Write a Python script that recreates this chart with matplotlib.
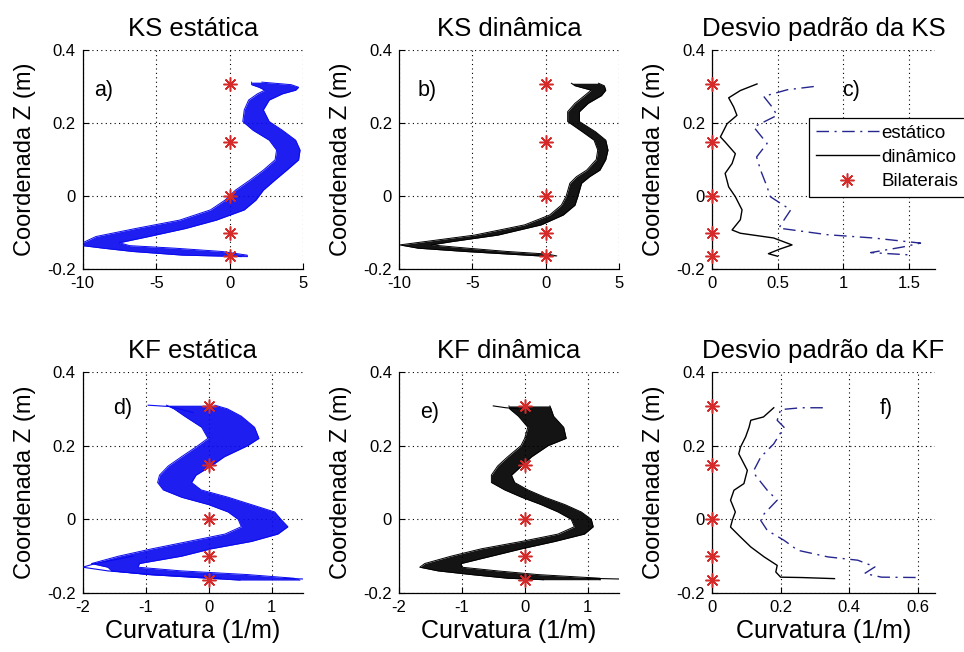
import matplotlib
matplotlib.use("Agg")
import matplotlib.pyplot as plt
from matplotlib.lines import Line2D

plt.rcParams['font.family'] = ['Liberation Sans', 'DejaVu Sans']

# ---------------- data ----------------
# bilateral supports (red stars)
Z_BIL = [0.307, 0.147, 0.0, -0.1, -0.165]
K_BIL = [0, 0, 0, 0, 0]

# a) KS estática - envelope of the ensemble
ZA = [0.312, 0.305, 0.298, 0.29, 0.28, 0.263, 0.236, 0.204, 0.18, 0.153, 0.126, 0.099, 0.071,
      0.044, 0.016, -0.011, -0.038, -0.066, -0.089, -0.111, -0.128, -0.136, -0.143, -0.152, -0.162, -0.166]
A_LO = [1.5, 1.5, 2.0, 2.4, 1.9, 1.3, 1.0, 0.9, 1.6, 2.7, 3.2, 3.1, 2.3,
        1.4, 0.4, -0.3, -1.3, -3.4, -6.4, -9.1, -10.0, -10.0, -8.6, -6.6, -3.2, 0.8]
A_HI = [2.2, 4.2, 4.7, 4.5, 3.6, 2.7, 2.3, 2.7, 3.6, 4.5, 4.8, 4.7, 3.9,
        3.1, 2.3, 1.8, 1.0, -0.9, -3.0, -5.5, -7.5, -6.8, -3.7, -0.5, 1.2, 1.2]

# b) KS dinâmica
ZB = [0.309, 0.302, 0.29, 0.275, 0.254, 0.231, 0.204, 0.176, 0.153, 0.126, 0.10, 0.071, 0.053,
      0.035, 0.0, -0.025, -0.052, -0.079, -0.107, -0.125, -0.134, -0.143, -0.152, -0.159, -0.164]
B_LO = [1.75, 2.0, 3.1, 2.65, 2.0, 1.5, 1.5, 2.5, 3.3, 3.55, 3.45, 2.8, 2.1,
        1.65, 1.4, 1.07, 0.27, -1.43, -4.84, -8.25, -9.95, -8.7, -5.5, -2.6, -0.5]
B_HI = [3.6, 4.0, 4.1, 3.8, 2.9, 2.3, 2.3, 3.4, 4.1, 4.25, 4.1, 3.7, 3.0,
        2.45, 2.2, 2.0, 1.2, -0.3, -3.25, -6.4, -7.8, -5.3, -2.6, 0.1, 0.75]

# c) Desvio padrão da KS
ZC_EST = [0.30, 0.291, 0.273, 0.244, 0.221, 0.189, 0.144, 0.107, 0.071, 0.025, -0.002, -0.038,
          -0.065, -0.088, -0.106, -0.115, -0.129, -0.14, -0.155, -0.161]
C_EST = [0.776, 0.573, 0.394, 0.458, 0.496, 0.318, 0.42, 0.34, 0.37, 0.42, 0.445, 0.6,
         0.55, 0.51, 0.88, 1.23, 1.59, 1.45, 1.21, 1.49]
ZC_DIN = [0.307, 0.289, 0.269, 0.244, 0.221, 0.198, 0.162, 0.148, 0.116, 0.089, 0.062, 0.025,
          -0.002, -0.038, -0.065, -0.093, -0.102, -0.115, -0.134, -0.145, -0.158, -0.165]
C_DIN = [0.343, 0.216, 0.127, 0.165, 0.19, 0.115, 0.064, 0.1, 0.178, 0.153, 0.1, 0.127,
         0.178, 0.229, 0.216, 0.153, 0.216, 0.47, 0.61, 0.52, 0.43, 0.5]

# d) KF estática
ZD = [0.31, 0.30, 0.28, 0.25, 0.22, 0.20, 0.17, 0.145, 0.12, 0.10, 0.08, 0.06, 0.04,
      0.02, 0.0, -0.02, -0.04, -0.06, -0.08, -0.10, -0.12, -0.13, -0.14, -0.15, -0.16, -0.165]
D_LO = [-0.67, -0.55, -0.38, -0.11, -0.01, -0.17, -0.43, -0.64, -0.78, -0.81, -0.72, -0.43, 0.0,
        0.31, 0.47, 0.52, 0.26, -0.32, -0.9, -1.43, -1.86, -1.6, -1.54, -0.96, 0.0, 0.5]
D_HI = [0.1, 0.3, 0.52, 0.73, 0.8, 0.62, 0.25, 0.04, -0.2, -0.27, -0.12, 0.31, 0.68,
        1.05, 1.15, 1.26, 1.1, 0.68, 0.04, -0.43, -1.1, -1.12, -0.43, 0.62, 1.36, 1.45]
ZD_OUT1 = [0.31, 0.306, 0.29]
D_OUT1 = [-0.96, -0.6, -0.25]
ZD_OUT2 = [-0.10, -0.12, -0.13, -0.14, -0.15, -0.16]
D_OUT2 = [-1.2, -1.8, -2.0, -1.6, -0.9, 0.2]
ZD_OUT3 = [-0.16, -0.162]
D_OUT3 = [1.2, 1.5]

# e) KF dinâmica
ZE = [0.308, 0.30, 0.28, 0.25, 0.22, 0.20, 0.17, 0.145, 0.12, 0.10, 0.08, 0.06, 0.04,
      0.02, 0.0, -0.02, -0.04, -0.06, -0.08, -0.10, -0.12, -0.13, -0.14, -0.15, -0.16, -0.164]
E_LO = [-0.25, -0.24, -0.1, 0.05, 0.0, -0.06, -0.27, -0.43, -0.53, -0.53, -0.32, -0.05, 0.26,
        0.53, 0.74, 0.79, 0.53, -0.05, -0.69, -1.17, -1.59, -1.67, -1.38, -0.85, -0.27, 0.3]
E_HI = [0.4, 0.42, 0.46, 0.62, 0.66, 0.37, 0.11, -0.05, -0.21, -0.16, 0.05, 0.32, 0.64,
        0.9, 1.06, 1.09, 0.95, 0.48, -0.05, -0.53, -1.01, -1.0, -0.43, 0.21, 1.2, 1.2]
ZE_OUT1 = [0.308, 0.303, 0.30]
E_OUT1 = [-0.5, -0.3, -0.1]
ZE_OUT2 = [-0.16, -0.162]
E_OUT2 = [1.0, 1.5]

# f) Desvio padrão da KF
ZF_EST = [0.303, 0.303, 0.298, 0.269, 0.25, 0.205, 0.169, 0.133, 0.119, 0.079, 0.052, 0.015,
          -0.003, -0.03, -0.057, -0.084, -0.102, -0.111, -0.129, -0.147, -0.157, -0.158]
F_EST = [0.323, 0.26, 0.2, 0.19, 0.21, 0.18, 0.142, 0.122, 0.127, 0.161, 0.19, 0.152,
         0.142, 0.161, 0.21, 0.25, 0.338, 0.425, 0.475, 0.445, 0.494, 0.6]
ZF_DIN = [0.303, 0.278, 0.269, 0.25, 0.224, 0.196, 0.178, 0.151, 0.133, 0.097, 0.079, 0.052,
          0.02, -0.003, -0.021, -0.048, -0.075, -0.102, -0.125, -0.143, -0.157, -0.158, -0.161]
F_DIN = [0.18, 0.15, 0.113, 0.108, 0.098, 0.083, 0.078, 0.093, 0.103, 0.093, 0.064, 0.054,
         0.068, 0.059, 0.054, 0.083, 0.113, 0.152, 0.19, 0.186, 0.2, 0.26, 0.357]

TITLES = ['KS estática', 'KS dinâmica', 'Desvio padrão da KS',
          'KF estática', 'KF dinâmica', 'Desvio padrão da KF']
PANEL_LABELS = ['a)', 'b)', 'c)', 'd)', 'e)', 'f)']
XTICKS = [[-10, -5, 0, 5], [-10, -5, 0, 5], [0, 0.5, 1, 1.5],
          [-2, -1, 0, 1], [-2, -1, 0, 1], [0, 0.2, 0.4, 0.6]]
XTICKLABELS = [['-10', '-5', '0', '5'], ['-10', '-5', '0', '5'], ['0', '0.5', '1', '1.5'],
               ['-2', '-1', '0', '1'], ['-2', '-1', '0', '1'], ['0', '0.2', '0.4', '0.6']]
XLIMS = [(-10, 5), (-10, 5), (0, 1.7), (-2, 1.5), (-2, 1.5), (0, 0.65)]
YTICKS = [-0.2, 0, 0.2, 0.4]
YTICKLABELS = ['-0.2', '0', '0.2', '0.4']

# ---------------- style ----------------
BLUE = '#0a0af0'
BLACK = '#000000'
NAVY = '#26268f'
RED = '#d42a2a'
DASHDOT = (0, (9, 4, 1.5, 4))

fig = plt.figure(figsize=(9.64, 6.52), dpi=100)
lefts = [0.0858, 0.4139, 0.7386]
widths = [0.2285, 0.2282, 0.2313]
bottoms = [0.5874, 0.0905]
heights = [0.3359, 0.3389]
label_pos = [(0.054, 0.817), (0.086, 0.817), (0.583, 0.817),
             (0.136, 0.837), (0.095, 0.819), (0.753, 0.837)]

axes = []
for r in range(2):
    for c in range(3):
        axes.append(fig.add_axes([lefts[c], bottoms[r], widths[c], heights[r]]))


def band(ax, z, lo, hi, color):
    ax.fill_betweenx(z, lo, hi, color=color, lw=0, alpha=0.92, zorder=2)
    ax.plot(lo, z, color=color, lw=0.7, zorder=3)
    ax.plot(hi, z, color=color, lw=0.7, zorder=3)


def stars(ax):
    ax.plot(K_BIL, Z_BIL, linestyle='none', marker=(8, 2, 0), markersize=10,
            markeredgewidth=1.1, color=RED, zorder=6, clip_on=False)


band(axes[0], ZA, A_LO, A_HI, BLUE)
band(axes[1], ZB, B_LO, B_HI, BLACK)
axes[2].plot(C_EST, ZC_EST, color=NAVY, lw=1.0, linestyle=DASHDOT, label='estático')
axes[2].plot(C_DIN, ZC_DIN, color=BLACK, lw=1.0, label='dinâmico')
band(axes[3], ZD, D_LO, D_HI, BLUE)
for zz, kk in [(ZD_OUT1, D_OUT1), (ZD_OUT2, D_OUT2), (ZD_OUT3, D_OUT3)]:
    axes[3].plot(kk, zz, color=BLUE, lw=0.8, zorder=3)
band(axes[4], ZE, E_LO, E_HI, BLACK)
for zz, kk in [(ZE_OUT1, E_OUT1), (ZE_OUT2, E_OUT2)]:
    axes[4].plot(kk, zz, color=BLACK, lw=0.8, zorder=3)
axes[5].plot(F_EST, ZF_EST, color=NAVY, lw=1.0, linestyle=DASHDOT)
axes[5].plot(F_DIN, ZF_DIN, color=BLACK, lw=1.0)

for i, ax in enumerate(axes):
    stars(ax)
    ax.set_xlim(*XLIMS[i])
    ax.set_ylim(-0.2, 0.4)
    ax.set_xticks(XTICKS[i])
    ax.set_xticklabels(XTICKLABELS[i])
    ax.set_yticks(YTICKS)
    ax.set_yticklabels(YTICKLABELS)
    ax.spines['top'].set_visible(False)
    ax.spines['right'].set_visible(False)
    ax.spines['left'].set_linewidth(0.9)
    ax.spines['bottom'].set_linewidth(0.9)
    ax.tick_params(direction='in', length=4, width=0.8, labelsize=12, pad=5,
                   top=False, right=False)
    ax.grid(True, color='black', linestyle=(0, (1, 3)), linewidth=0.8)
    ax.set_axisbelow(True)
    ax.set_title(TITLES[i], fontsize=18.5, pad=10)
    ax.set_ylabel('Coordenada Z (m)', fontsize=17, labelpad=8)
    if i >= 3:
        ax.set_xlabel('Curvatura (1/m)', fontsize=18, labelpad=3)
    ax.text(label_pos[i][0], label_pos[i][1], PANEL_LABELS[i], transform=ax.transAxes,
            fontsize=15.5, ha='left', va='center', zorder=7)

handles = [Line2D([], [], color=NAVY, lw=1.0, linestyle=DASHDOT),
           Line2D([], [], color=BLACK, lw=1.0),
           Line2D([], [], color=RED, linestyle='none', marker=(8, 2, 0), markersize=10,
                  markeredgewidth=1.1)]
leg = axes[2].legend(handles, ['estático', 'dinâmico', 'Bilaterais'],
                     loc='upper left', bbox_to_anchor=(0.435, 0.69), fontsize=13.5,
                     handlelength=3.4, handletextpad=0.1, borderpad=0.35,
                     labelspacing=0.38, borderaxespad=0, fancybox=False,
                     edgecolor='black', framealpha=1)
leg.get_frame().set_linewidth(0.9)
leg.set_zorder(10)

fig.savefig('out.png', dpi=100)
